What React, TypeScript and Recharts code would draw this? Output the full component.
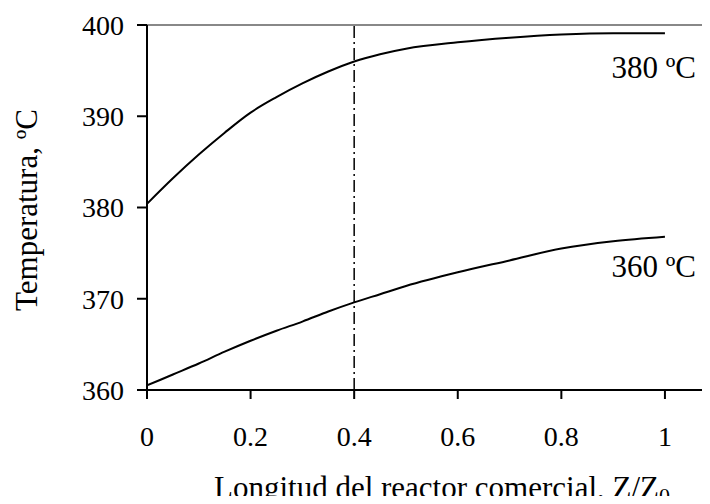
import React from 'react';
import { LineChart, Line, XAxis, YAxis, ReferenceLine, ReferenceDot } from 'recharts';

// posición axial adimensional Z/Z0
const zPositions = [0, 0.05, 0.1, 0.15, 0.2, 0.25, 0.3, 0.35, 0.4, 0.45, 0.5, 0.6, 0.7, 0.8, 0.9, 1.0];
// temperatura (ºC) con alimentación a 380 ºC
const temp380 = [380.4, 383.2, 385.8, 388.2, 390.4, 392.1, 393.6, 394.9, 396.0, 396.8, 397.4, 398.1, 398.6, 398.95, 399.1, 399.1];
// temperatura (ºC) con alimentación a 360 ºC
const temp360 = [360.5, 361.7, 362.9, 364.2, 365.4, 366.5, 367.5, 368.6, 369.6, 370.5, 371.4, 372.9, 374.2, 375.5, 376.3, 376.8];

const xTicks = [0, 0.2, 0.4, 0.6, 0.8, 1];
const yTicks = [360, 370, 380, 390, 400];
const markerZ = 0.4;

const FONT = '"Liberation Serif", "Times New Roman", serif';

const data = zPositions.map((z, i) => ({ z, t380: temp380[i], t360: temp360[i] }));

const curveLabel = (text: string, dy: number) => (props: any) => {
  const { viewBox } = props;
  const x = viewBox.x + viewBox.width / 2;
  const y = viewBox.y + viewBox.height / 2;
  return (
    <text x={x + 31} y={y + dy} textAnchor="end" fontFamily={FONT} fontSize={31} fill="#000">
      {text}
    </text>
  );
};

const App: React.FC = () => {
  return (
    <div style={{ margin: -8 }}>
      <LineChart width={710} height={504} data={data} margin={{ top: 25, right: 0, bottom: 0, left: 0 }}>
        <XAxis
          dataKey="z"
          type="number"
          domain={[0, 1.087]}
          allowDataOverflow
          ticks={xTicks}
          tickFormatter={(v: number) => String(v)}
          height={114}
          stroke="#000"
          strokeWidth={2}
          tickSize={9}
          tickMargin={27}
          tick={{ fill: '#000', fontFamily: FONT, fontSize: 28 }}
        />
        <YAxis
          type="number"
          domain={[360, 400]}
          ticks={yTicks}
          width={147}
          stroke="#000"
          strokeWidth={2}
          tickSize={10}
          tickMargin={13}
          tick={{ fill: '#000', fontFamily: FONT, fontSize: 28 }}
        />
        <ReferenceLine y={400} stroke="#888" strokeWidth={2} />
        <ReferenceLine x={markerZ} stroke="#000" strokeWidth={1.5} strokeDasharray="12 4 2 4" />
        <Line type="monotone" dataKey="t380" stroke="#000" strokeWidth={2} dot={false} isAnimationActive={false} />
        <Line type="monotone" dataKey="t360" stroke="#000" strokeWidth={2} dot={false} isAnimationActive={false} />
        <ReferenceDot x={1} y={temp380[temp380.length - 1]} r={0} label={curveLabel('380 ºC', 45)} />
        <ReferenceDot x={1} y={temp360[temp360.length - 1]} r={0} label={curveLabel('360 ºC', 40)} />
        <text x={37} y={210} transform="rotate(-90, 37, 210)" textAnchor="middle" fontFamily={FONT} fontSize={31} fill="#000">
          Temperatura, ºC
        </text>
        <text x={442} y={498} textAnchor="middle" fontFamily={FONT} fontSize={31} fill="#000">
          Longitud del reactor comercial, Z/Z
          <tspan dy={5} fontSize={22}>0</tspan>
        </text>
      </LineChart>
    </div>
  );
};

export default App;
